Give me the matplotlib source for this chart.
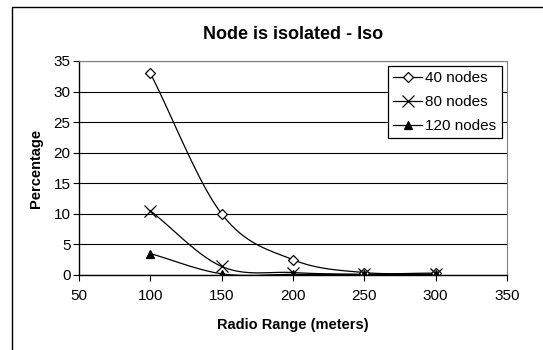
import numpy as np
import matplotlib.pyplot as plt
from matplotlib.patches import Rectangle

plt.rcParams["font.family"] = ["Liberation Sans", "DejaVu Sans"]

radio_range = [100, 150, 200, 250, 300]
iso_40 = [33.0, 10.0, 2.5, 0.4, 0.3]
iso_80 = [10.5, 1.4, 0.4, 0.1, 0.1]
iso_120 = [3.5, 0.2, 0.1, 0.1, 0.1]


def smooth(x, y, n=30):
    # Catmull-Rom curve through the points, like the spreadsheet "smoothed line"
    x = np.asarray(x, float)
    y = np.asarray(y, float)
    px = np.concatenate([[2 * x[0] - x[1]], x, [2 * x[-1] - x[-2]]])
    py = np.concatenate([[2 * y[0] - y[1]], y, [2 * y[-1] - y[-2]]])
    xs, ys = [], []
    t = np.linspace(0, 1, n)
    for i in range(1, len(px) - 2):
        for p, out in ((px, xs), (py, ys)):
            p0, p1, p2, p3 = p[i - 1], p[i], p[i + 1], p[i + 2]
            out.extend(0.5 * ((2 * p1) + (-p0 + p2) * t
                              + (2 * p0 - 5 * p1 + 4 * p2 - p3) * t ** 2
                              + (-p0 + 3 * p1 - 3 * p2 + p3) * t ** 3))
    return np.array(xs), np.array(ys)


fig = plt.figure(figsize=(5.43, 3.5), dpi=100)
ax = fig.add_axes([79 / 543, 1 - 275 / 350, 428 / 543, 214 / 350])

# outer chart frame
fig.patches.append(Rectangle((12 / 543, -0.1), 1.0, 1 - 7 / 350 + 0.1,
                             transform=fig.transFigure, fill=False,
                             edgecolor="black", linewidth=1.0))

series = [
    (iso_40, "D", "white", 5, "40 nodes"),
    (iso_80, "x", "black", 8, "80 nodes"),
    (iso_120, "^", "black", 6, "120 nodes"),
]
handles = []
for vals, mk, fc, ms, lab in series:
    sx, sy = smooth(radio_range, vals)
    ax.plot(sx, sy, color="black", linewidth=0.9, zorder=3)
    ax.plot(radio_range, vals, linestyle="none", marker=mk, markersize=ms,
            markerfacecolor=fc, markeredgecolor="black", markeredgewidth=0.9,
            zorder=4)
    h, = ax.plot([], [], color="black", linewidth=0.9, marker=mk,
                 markersize=ms, markerfacecolor=fc, markeredgecolor="black",
                 markeredgewidth=0.9, label=lab)
    handles.append(h)

ax.set_xlim(50, 350)
ax.set_ylim(0, 35)
ax.set_xticks(range(50, 351, 50))
ax.set_yticks(range(0, 36, 5))
ax.yaxis.grid(True, color="black", linewidth=0.8)
ax.set_axisbelow(True)
for s in ("top", "right"):
    ax.spines[s].set_color("#808080")
ax.spines["left"].set_linewidth(1.0)
ax.spines["bottom"].set_linewidth(1.0)
ax.tick_params(axis="both", direction="out", length=4, width=0.8,
               labelsize=11, pad=2)
ax.tick_params(axis="x", pad=6)

ax.set_title("Node is isolated - Iso", fontsize=13, fontweight="bold", pad=16)
ax.set_xlabel("Radio Range (meters)", fontsize=10.5, fontweight="bold",
              labelpad=11)
ax.set_ylabel("Percentage", fontsize=10.5, fontweight="bold", labelpad=8)

leg = ax.legend(handles=handles, loc="upper right",
                bbox_to_anchor=(0.988, 0.977), fontsize=11, frameon=True,
                fancybox=False, edgecolor="black", framealpha=1,
                handlelength=1.9, handletextpad=0.2, borderpad=0.35,
                labelspacing=0.65, borderaxespad=0)
leg.get_frame().set_linewidth(0.9)

fig.savefig("out.png", dpi=100)
